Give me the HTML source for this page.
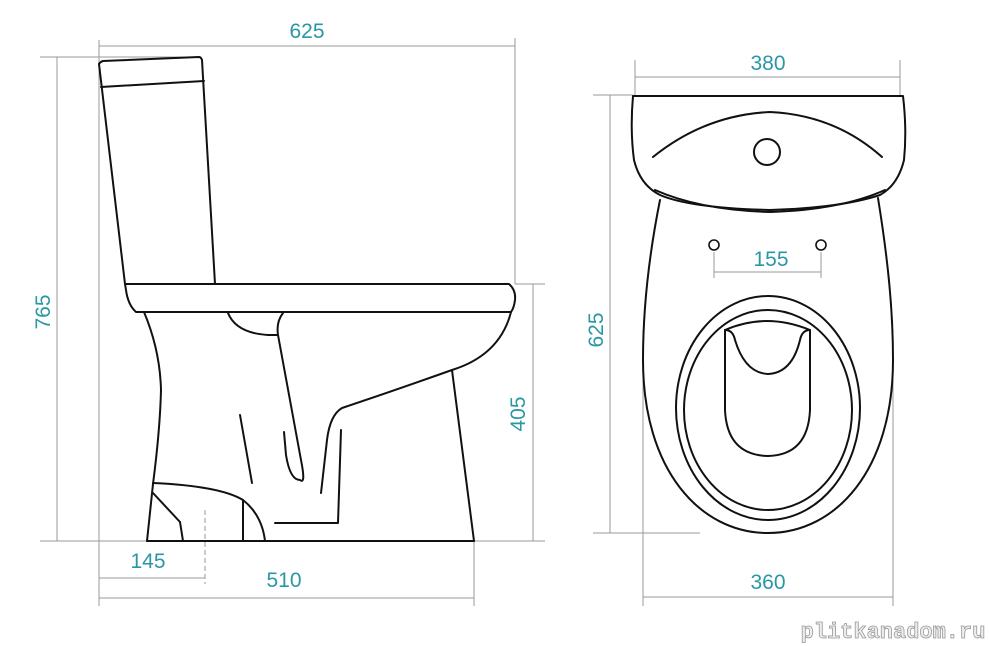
<!DOCTYPE html>
<html><head><meta charset="utf-8"><style>
html,body{margin:0;padding:0;background:#fff;}
svg{display:block;}
.d{stroke:#9a9a9a;stroke-width:1;fill:none;}
.k{stroke:#111;stroke-width:2;fill:none;stroke-linecap:round;stroke-linejoin:round;}
.t{fill:#2a97a6;font-family:"Liberation Sans",sans-serif;font-size:21px;}
</style></head><body>
<svg width="989" height="646" viewBox="0 0 989 646" xmlns="http://www.w3.org/2000/svg">
<!-- LEFT dimension lines -->
<line class="d" x1="99" y1="40" x2="99" y2="606"/>
<line class="d" x1="515" y1="38" x2="515" y2="284"/>
<line class="d" x1="99" y1="46" x2="515" y2="46"/>
<line class="d" x1="40" y1="57" x2="200" y2="57"/>
<line class="d" x1="57" y1="57" x2="57" y2="541"/>
<line class="d" x1="40" y1="541" x2="545" y2="541"/>
<line class="d" x1="515" y1="284" x2="545" y2="284"/>
<line class="d" x1="533" y1="284" x2="533" y2="541"/>
<line class="d" x1="99" y1="578" x2="205" y2="578"/>
<line class="d" x1="205" y1="510" x2="205" y2="584" stroke-dasharray="5,3"/>
<line class="d" x1="99" y1="598" x2="474" y2="598"/>
<line class="d" x1="474" y1="541" x2="474" y2="606"/>
<text class="t" x="307" y="38" text-anchor="middle">625</text>
<text class="t" transform="translate(50,312) rotate(-90)" text-anchor="middle">765</text>
<text class="t" transform="translate(525,414) rotate(-90)" text-anchor="middle">405</text>
<text class="t" x="148" y="568" text-anchor="middle">145</text>
<text class="t" x="284" y="587" text-anchor="middle">510</text>

<!-- LEFT toilet -->
<path class="k" d="M99,64 Q100,62 103,61 L199,57 Q201,57 202,60 L215,284"/>
<path class="k" d="M99,64 L125,284"/>
<path class="k" d="M101,87 L204,81"/>
<path class="k" d="M125,284 L509,284 Q516,290 515,300 Q514,308 511,312 L136,312 Q128,305 126,290 Z"/>
<path class="k" d="M144,312 Q160,350 161,390 Q160,430 153,484 L147,541"/>
<path class="k" d="M147,541 L474,541"/>
<path class="k" d="M511,312 Q500,355 452,370 L474,541"/>
<path class="k" d="M452,370 Q390,392 342,408 Q330,415 327,440 L321,493"/>
<path class="k" d="M228,313 Q236,333 268,335 L278,335"/>
<path class="k" d="M283,313 Q276,322 278,335 L301,460 Q306,485 300,480 Q290,480 286,455 L284,432"/>
<path class="k" d="M240,415 L252,483"/>
<path class="k" d="M341,430 L338,523 L275,523"/>
<path class="k" d="M153,483 Q220,486 243,500 Q262,515 265,541"/>
<path class="k" d="M243,500 L243,541"/>
<path class="k" d="M153,493 L180,522 L183,541"/>

<!-- RIGHT dimension lines -->
<line class="d" x1="635" y1="60" x2="635" y2="95"/>
<line class="d" x1="900" y1="60" x2="900" y2="95"/>
<line class="d" x1="635" y1="77" x2="900" y2="77"/>
<line class="d" x1="593" y1="95" x2="633" y2="95"/>
<line class="d" x1="610" y1="95" x2="610" y2="533"/>
<line class="d" x1="593" y1="533" x2="700" y2="533"/>
<line class="d" x1="643" y1="330" x2="643" y2="606"/>
<line class="d" x1="893" y1="330" x2="893" y2="606"/>
<line class="d" x1="643" y1="597" x2="893" y2="597"/>
<line class="d" x1="714" y1="252" x2="714" y2="278"/>
<line class="d" x1="821" y1="252" x2="821" y2="278"/>
<line class="d" x1="714" y1="272" x2="821" y2="272"/>
<text class="t" x="768" y="70" text-anchor="middle">380</text>
<text class="t" transform="translate(603,330) rotate(-90)" text-anchor="middle">625</text>
<text class="t" x="771" y="266" text-anchor="middle">155</text>
<text class="t" x="768" y="589" text-anchor="middle">360</text>

<!-- RIGHT toilet -->
<path class="k" d="M633,96 L903,96 Q907,130 904,160 Q898,185 880,195 Q840,208 770,210 Q690,208 660,195 Q640,185 634,160 Q630,130 633,96 Z"/>
<path class="k" d="M655,190 Q700,210 770,212 Q840,210 885,190"/>
<path class="k" d="M653,157 Q705,115 770,112 Q835,115 882,157"/>
<circle class="k" cx="767" cy="152" r="13"/>
<path class="k" d="M660,200 C648,260 643,310 643,360 C643,470 700,533 768,533 C836,533 893,470 893,360 C893,310 888,260 878,198"/>
<circle class="k" cx="714" cy="245" r="5" style="stroke-width:1.6"/>
<circle class="k" cx="821" cy="245" r="5" style="stroke-width:1.6"/>
<ellipse class="k" cx="768" cy="408" rx="92" ry="112"/>
<ellipse class="k" cx="768" cy="410" rx="84" ry="100"/>
<path class="k" d="M725,330 L725,410 Q727,455 768,456 Q808,455 810,410 L810,330"/>
<path class="k" d="M725,330 Q766,312 810,330"/>
<path class="k" d="M725,330 Q733,330 735,340 Q745,373 768,374 Q792,373 800,340 Q802,330 810,330"/>

<text x="893" y="638" text-anchor="middle" style="font-family:'Liberation Mono',monospace;font-size:22px;font-weight:bold;fill:#eee;stroke:#999;stroke-width:0.8">plitkanadom.ru</text>
</svg>
</body></html>
